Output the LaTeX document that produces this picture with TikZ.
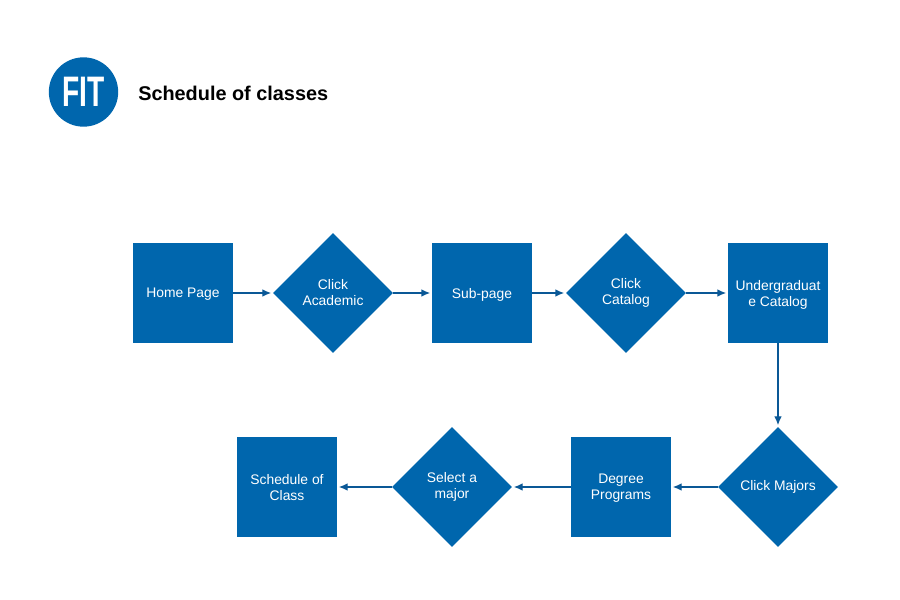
\documentclass[tikz,border=0pt]{standalone}
\usepackage{fontspec}
\setmainfont{Liberation Sans}
\usetikzlibrary{shapes.geometric,arrows.meta}
\definecolor{fitblue}{HTML}{0066AD}
\definecolor{fitline}{HTML}{0A5896}
\tikzset{
  pagebox/.style={draw=none, fill=fitblue, text=white, minimum size=75pt, inner sep=0pt, align=center, text depth=0pt, font=\fontsize{10.4}{12}\selectfont},
  clickbox/.style={diamond, aspect=1, draw=none, fill=fitblue, text=white, minimum size=90pt, inner sep=0pt, align=center, font=\fontsize{10.4}{12}\selectfont},
  flow/.style={draw=fitline, line width=0.8pt, -{Latex[length=6.5pt,width=5.5pt]}, shorten >=1.2pt},
}
\begin{document}
\begin{tikzpicture}[x=0.75pt,y=-0.75pt]
	\useasboundingbox (0,0) rectangle (900,600);
	\node[circle, fill=fitblue, minimum size=52pt, inner sep=0pt] (logo) at (83.5,92) {};
	\node[text=white, font=\fontsize{32}{32}\selectfont\bfseries, xscale=0.66, inner sep=0pt] (fit) at (83.5,92) {FIT};
	\node[anchor=west, inner sep=0pt, font=\fontsize{14.9}{17}\selectfont\bfseries] (title) at (138,93) {Schedule of classes};
	\node[pagebox] (home) at (183,293) {Home Page};
	\node[clickbox] (academic) at (333,293) {Click\\Academic};
	\node[pagebox] (subpage) at (482,293) {Sub-page};
	\node[clickbox] (catalog) at (626,293) {Click\\Catalog};
	\node[pagebox] (undergrad) at (778,293) {Undergraduat\\e Catalog};
	\node[clickbox] (majors) at (778,487) {Click Majors};
	\node[pagebox] (degree) at (621,487) {Degree\\Programs};
	\node[clickbox] (select) at (452,487) {Select a\\major};
	\node[pagebox] (schedule) at (287,487) {Schedule of\\Class};
	\draw[flow] (home) -- (academic);
	\draw[flow] (academic) -- (subpage);
	\draw[flow] (subpage) -- (catalog);
	\draw[flow] (catalog) -- (undergrad);
	\draw[flow] (undergrad) -- (majors);
	\draw[flow] (majors) -- (degree);
	\draw[flow] (degree) -- (select);
	\draw[flow] (select) -- (schedule);
\end{tikzpicture}
\end{document}
